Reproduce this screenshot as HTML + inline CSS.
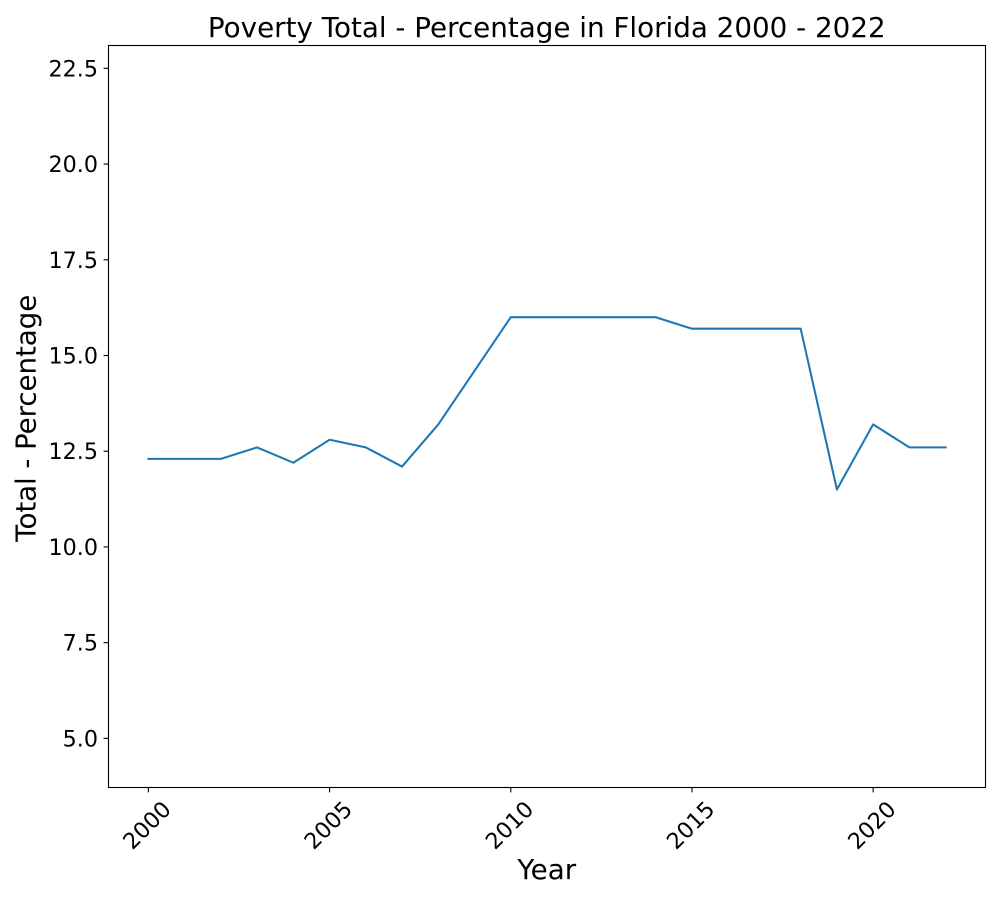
<!DOCTYPE html>
<html lang="en">
<head>
<meta charset="utf-8">
<title>Poverty Total - Percentage in Florida 2000 - 2022</title>
<style>
html,body{margin:0;padding:0;background:#fff}
svg{display:block}
text{font-family:"DejaVu Sans",sans-serif;fill:#000}
</style>
</head>
<body>
<svg id="chart" xmlns="http://www.w3.org/2000/svg" width="1000" height="900" viewBox="0 0 1000 900">
  <rect x="0" y="0" width="1000" height="900" fill="#fff"/>
  <text x="546.8" y="37" font-size="27.78" text-anchor="middle">Poverty Total - Percentage in Florida 2000 - 2022</text>
  <g id="x-ticks"></g>
  <g id="y-ticks"></g>
  <polyline id="series" fill="none" stroke="#1f77b4" stroke-width="2.08" stroke-linejoin="round" stroke-linecap="square"/>
  <rect x="108.5" y="45.5" width="877" height="742" fill="none" stroke="#000" stroke-width="1.1"/>
  <text x="546.8" y="879" font-size="27.78" text-anchor="middle">Year</text>
  <text transform="translate(35.5,418.2) rotate(-90)" font-size="27.78" text-anchor="middle" textLength="247" lengthAdjust="spacing">Total - Percentage</text>
</svg>
<script>
const years = [2000,2001,2002,2003,2004,2005,2006,2007,2008,2009,2010,2011,2012,2013,2014,2015,2016,2017,2018,2019,2020,2021,2022];
const values = [12.3,12.3,12.3,12.6,12.2,12.8,12.6,12.1,13.2,14.6,16.0,16.0,16.0,16.0,16.0,15.7,15.7,15.7,15.7,11.5,13.2,12.6,12.6];
const xTickValues = [2000,2005,2010,2015,2020];
const yTickValues = [5.0,7.5,10.0,12.5,15.0,17.5,20.0,22.5];

const NS = 'http://www.w3.org/2000/svg';
function xScale(v){ return 148.36 + (v - 2000) * 36.24; }
function yScale(v){ return 738.4 - (v - 5) * 38.29; }

const xGroup = document.getElementById('x-ticks');
xTickValues.forEach(function(t){
  const px = xScale(t);
  const mark = document.createElementNS(NS, 'line');
  
  
  mark.setAttribute('x1', px);
  mark.setAttribute('x2', px);
  mark.setAttribute('y1', 787.5);
  mark.setAttribute('y2', 792.4);
  mark.setAttribute('stroke', '#000');
  mark.setAttribute('stroke-width', '1.1');
  xGroup.appendChild(mark);
  const label = document.createElementNS(NS, 'text');
  
  
  label.setAttribute('font-size', '22.22');
  label.setAttribute('text-anchor', 'middle');
  label.setAttribute('transform', 'translate(' + (px - 1.6) + ',825) rotate(-45) translate(0,8)');
  label.textContent = String(t);
  xGroup.appendChild(label);
});

const yGroup = document.getElementById('y-ticks');
yTickValues.forEach(function(t){
  const py = yScale(t);
  const mark = document.createElementNS(NS, 'line');
  
  
  mark.setAttribute('x1', 103.6);
  mark.setAttribute('x2', 108.5);
  mark.setAttribute('y1', py);
  mark.setAttribute('y2', py);
  mark.setAttribute('stroke', '#000');
  mark.setAttribute('stroke-width', '1.1');
  yGroup.appendChild(mark);
  const label = document.createElementNS(NS, 'text');
  
  
  label.setAttribute('font-size', '22.22');
  label.setAttribute('text-anchor', 'end');
  label.setAttribute('x', 98);
  label.setAttribute('y', py + 8);
  label.textContent = t.toFixed(1);
  yGroup.appendChild(label);
});

document.getElementById('series').setAttribute('points', years.map(function(y, i){
  return xScale(y) + ',' + yScale(values[i]);
}).join(' '));
</script>
</body>
</html>
